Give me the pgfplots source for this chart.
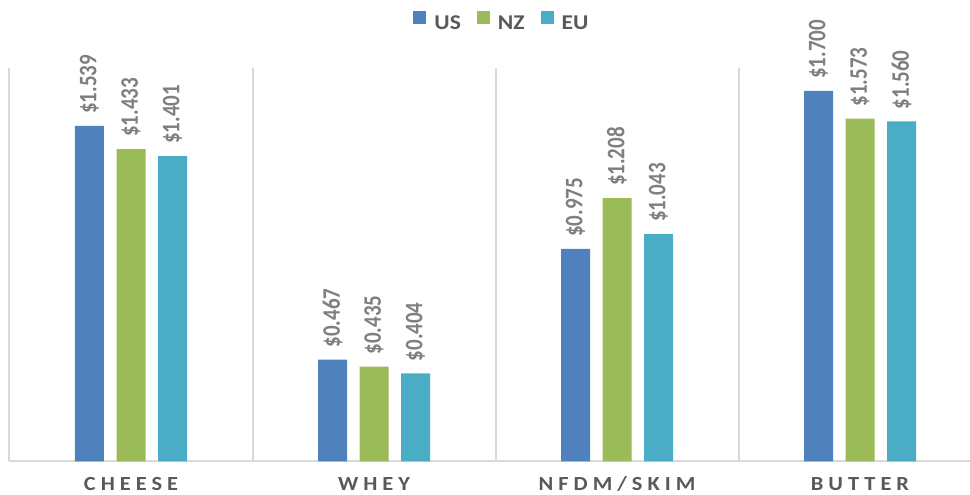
\documentclass[border=0pt]{standalone}
\usepackage{fontspec}
\setmainfont{Carlito}
\newfontfamily\legfont{Carlito}[FakeStretch=1.12]
\newfontfamily\catfont{Carlito}[FakeStretch=1.12,LetterSpace=25]
\usepackage{graphicx}
\usepackage{pgfplots}
\pgfplotsset{compat=1.18}
\definecolor{cUS}{HTML}{4F81BD}
\definecolor{cNZ}{HTML}{9BBB59}
\definecolor{cEU}{HTML}{4BACC6}
\definecolor{gridc}{HTML}{D9D9D9}
\definecolor{txt}{HTML}{595959}
\definecolor{lab}{HTML}{7F7F7F}
\pgfplotsset{sqleg/.style={legend image code/.code={\fill[##1] (0pt,0pt) rectangle (13pt,13pt);}}}
\begin{document}
\begin{tikzpicture}
\useasboundingbox (0,0) rectangle (970pt,495pt);
\clip (0,0) rectangle (970pt,495pt);
\begin{axis}[
  at={(9.5pt,33.5pt)}, anchor=south west,
  scale only axis, width=972pt, height=393.5pt,
  xmin=-0.5, xmax=3.5, ymin=0, ymax=1.805,
  ybar=12.5pt, bar width=29pt,
  axis line style={draw=none},
  xtick={0,1,2,3},
  xticklabels={CHEESE,WHEY,NFDM/SKIM,BUTTER},
  major tick length=0pt,
  ytick=\empty,
  extra x ticks={-0.5,0.5,1.5,2.5,3.5},
  extra x tick labels={},
  extra x tick style={grid=major, major grid style={gridc, line width=2pt}},
  extra y ticks={0}, extra y tick labels={},
  extra y tick style={grid=major, major grid style={gridc, line width=2pt}},
  xticklabel style={font=\catfont\bfseries\fontsize{20}{24}\selectfont, text=txt, anchor=base, yshift=-29pt},
  nodes near coords={\scalebox{1}[1.2]{\$\pgfmathprintnumber[fixed,fixed zerofill,precision=3,assume math mode=true]{\pgfplotspointmeta}}},
  nodes near coords style={rotate=90, anchor=west, inner xsep=12pt, inner ysep=0pt, font=\bfseries\fontsize{21}{24}\selectfont, text=lab},
  legend style={at={(0.5056,1.1194)}, anchor=center, draw=none, fill=none, legend columns=-1,
    font=\legfont\bfseries\fontsize{21}{24}\selectfont, text=txt,
    nodes={inner sep=0pt, text=txt},
    /tikz/every odd column/.append style={column sep=8pt},
    /tikz/every even column/.append style={column sep=16pt}},
]
\addplot[fill=cUS, draw=none, sqleg] coordinates {(0,1.539) (1,0.467) (2,0.975) (3,1.700)};
\addplot[fill=cNZ, draw=none, sqleg] coordinates {(0,1.433) (1,0.435) (2,1.208) (3,1.573)};
\addplot[fill=cEU, draw=none, sqleg] coordinates {(0,1.401) (1,0.404) (2,1.043) (3,1.560)};
\legend{US,NZ,EU}
\end{axis}
\end{tikzpicture}
\end{document}
